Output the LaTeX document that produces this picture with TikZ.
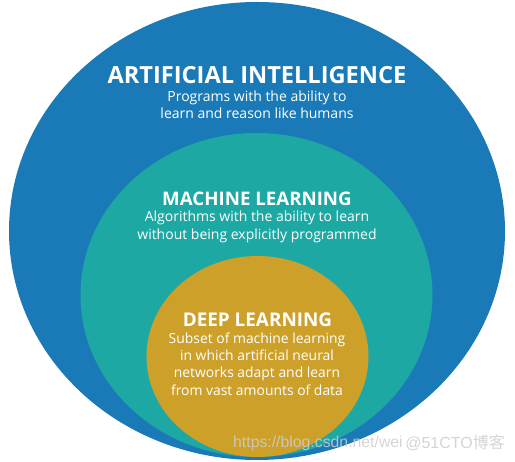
\documentclass[tikz,border=0pt]{standalone}
\usepackage{fontspec}
\setmainfont{Open Sans}
\newfontfamily\wmfont{Liberation Sans}
\newfontfamily\wmcjk{Noto Sans CJK SC}
\definecolor{aiblue}{RGB}{26,122,184}
\definecolor{mlteal}{RGB}{30,168,164}
\definecolor{dlgold}{RGB}{205,160,42}
\definecolor{wmgray}{RGB}{205,205,205}
\tikzset{
  titletext/.style={text=white, font=\bfseries, inner sep=0pt, align=center},
  bodytext/.style={text=white, inner sep=0pt, align=center},
  wmtext/.style={text=wmgray, text opacity=0.85, inner sep=0pt}
}
\begin{document}
\begin{tikzpicture}[x=1pt, y=-1pt]
\useasboundingbox (0,0) rectangle (515,462);
\fill[aiblue] (257,231) ellipse [x radius=248pt, y radius=229pt];
\fill[mlteal] (256.5,295) ellipse [x radius=176pt, y radius=162pt];
\fill[dlgold] (257.5,356.5) ellipse [x radius=111pt, y radius=100.5pt];

\node[titletext, font=\bfseries\fontsize{23.6}{28}\selectfont] (aititle) at (257,75) {ARTIFICIAL INTELLIGENCE};
\node[bodytext, font=\fontsize{14}{16.5}\selectfont] (aibody) at (257,105) {Programs with the ability to\\learn and reason like humans};

\node[titletext, font=\bfseries\fontsize{18.7}{22}\selectfont] (mltitle) at (257,199) {MACHINE LEARNING};
\node[bodytext, font=\fontsize{14}{18}\selectfont] (mlbody) at (257,227) {Algorithms with the ability to learn\\without being explicitly programmed};

\node[titletext, font=\bfseries\fontsize{18.9}{22}\selectfont] (dltitle) at (257.5,320) {DEEP LEARNING};
\node[bodytext, font=\fontsize{13.9}{17.3}\selectfont] (dlbody) at (257,364) {Subset of machine learning\\in which artificial neural\\networks adapt and learn\\from vast amounts of data};

\node[wmtext, anchor=west, font=\wmfont\fontsize{15.8}{18}\selectfont] (wm1) at (233,443) {https://blog.csdn.net/wei};
\node[wmtext, anchor=east, font=\wmfont\fontsize{16}{18}\selectfont] (wm2) at (505,443) {@51CTO{\wmcjk 博客}};
\end{tikzpicture}
\end{document}
